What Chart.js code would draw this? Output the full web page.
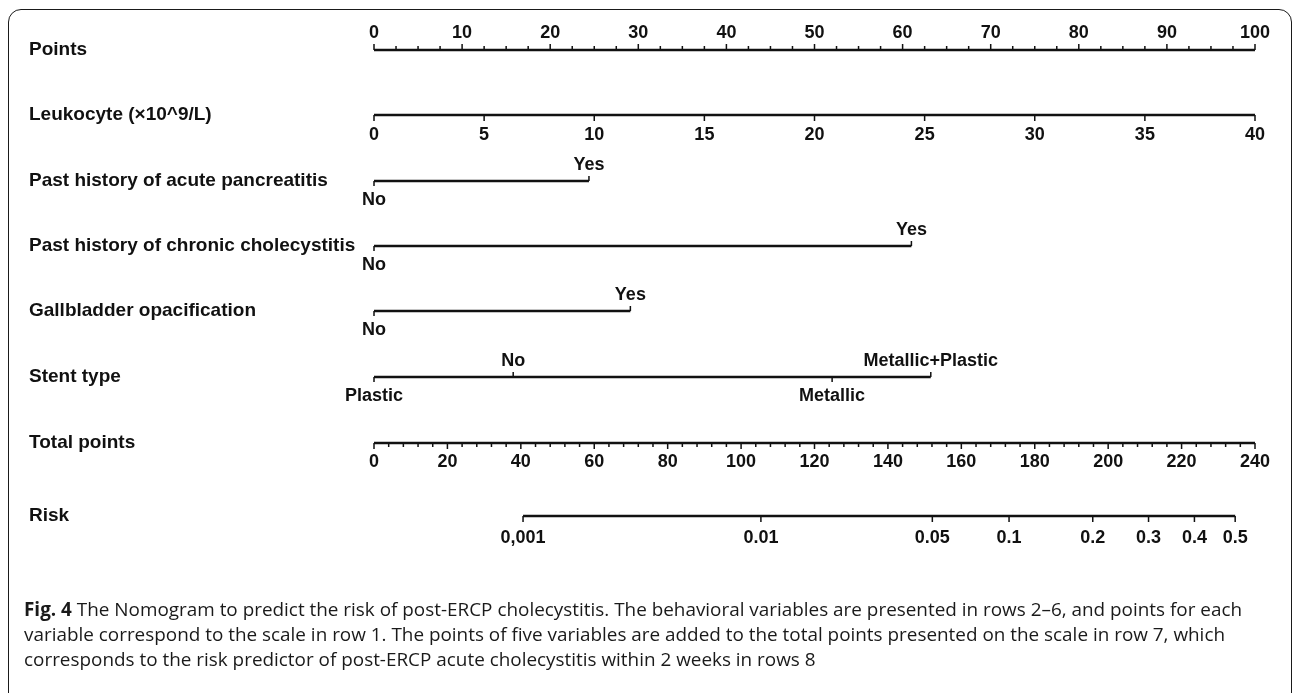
<!DOCTYPE html>
<html>
<head>
<meta charset="utf-8">
<title>Nomogram – post-ERCP cholecystitis</title>
<script src="https://cdn.jsdelivr.net/npm/chart.js@4.4.1/dist/chart.umd.min.js"></script>
<style>
  html, body { margin: 0; padding: 0; background: #fff; }
  #wrap { position: relative; width: 1293px; height: 693px; overflow: hidden; }
  #frame {
    position: absolute; left: 8px; top: 9px; width: 1284px; height: 800px;
    border: 1.7px solid #1a1a1a; border-radius: 13px; box-sizing: border-box;
  }
  #nomo { position: absolute; left: 0; top: 0; }
  #caption {
    position: absolute; left: 24px; top: 597px;
    font-family: "Open Sans", "Noto Sans", sans-serif; font-size: 18.9px;
    line-height: 25px; color: #1a1a1a; white-space: nowrap;
  }
  #caption b { font-weight: 700; }
</style>
</head>
<body>
<div id="wrap">
  <div id="frame"></div>
  <canvas id="nomo" width="1293" height="693"></canvas>
  <div id="caption">
    <div><b>Fig. 4</b> The Nomogram to predict the risk of post-ERCP cholecystitis. The behavioral variables are presented in rows 2–6, and points for each</div>
    <div>variable correspond to the scale in row 1. The points of five variables are added to the total points presented on the scale in row 7, which</div>
    <div>corresponds to the risk predictor of post-ERCP acute cholecystitis within 2 weeks in rows 8</div>
  </div>
</div>
<script>
// ---- scale values ----
const pointTickValues = [0, 10, 20, 30, 40, 50, 60, 70, 80, 90, 100];
const pointMinorStep = 2.5;
const leukocyteTickValues = [0, 5, 10, 15, 20, 25, 30, 35, 40];
const totalTickValues = [0, 20, 40, 60, 80, 100, 120, 140, 160, 180, 200, 220, 240];
const totalMinorStep = 4;
const riskTickLabels = ['0,001', '0.01', '0.05', '0.1', '0.2', '0.3', '0.4', '0.5'];
const riskTickTotals = [40.6, 105.4, 152.1, 173.0, 195.8, 211.0, 223.5, 234.6];

// ---- predictors (points contributed by each level) ----
const rowTitles = [
  'Points',
  'Leukocyte (×10^9/L)',
  'Past history of acute pancreatitis',
  'Past history of chronic cholecystitis',
  'Gallbladder opacification',
  'Stent type',
  'Total points',
  'Risk'
];
const acutePancreatitisLevels = ['No', 'Yes'];
const acutePancreatitisPoints = [0, 24.4];
const chronicCholecystitisLevels = ['No', 'Yes'];
const chronicCholecystitisPoints = [0, 61.0];
const gallbladderLevels = ['No', 'Yes'];
const gallbladderPoints = [0, 29.1];
const stentLevels = ['Plastic', 'No', 'Metallic', 'Metallic+Plastic'];
const stentPoints = [0, 15.8, 52.0, 63.2];
// label side of each level: -1 above the line, +1 below it
const binarySides = [1, -1];
const stentSides = [1, -1, 1, -1];

// ---- layout ----
const INK = '#111';
const TITLE_FONT = 'bold 19px "Liberation Sans", Arial, sans-serif';
const TICK_FONT = 'bold 18px "Liberation Sans", Arial, sans-serif';
const layout = {
  plotLeft: 374, plotRight: 1255, titleX: 29,
  rowY: [50, 115, 181, 246, 311, 377, 443, 516],
  lineWidth: 2.4, tickWidth: 1.5,
  majorTick: 6, minorTick: 4, catTick: 5,
  pointsLabelDy: -17, leukoLabelDy: 20, aboveDy: -16, belowDy: 19,
  totalLabelDy: 19, riskLabelDy: 22
};
const H = 693;

const datasets = [];
const labels = [];

function axisLine(axisId, x0, x1, y) {
  datasets.push({
    xAxisID: axisId, yAxisID: 'y',
    data: [{x: x0, y: y}, {x: x1, y: y}],
    showLine: true, borderColor: INK, borderWidth: layout.lineWidth,
    pointRadius: 0, clip: false, borderCapStyle: 'butt'
  });
}
function tickMarks(axisId, marks) {
  // marks: [{v, y0, y1}] – each one a short vertical segment
  const data = [];
  marks.forEach(m => {
    data.push({x: m.v, y: m.y0}, {x: m.v, y: m.y1}, {x: m.v, y: null});
  });
  datasets.push({
    xAxisID: axisId, yAxisID: 'y', data: data,
    showLine: true, spanGaps: false, borderColor: INK, borderWidth: layout.tickWidth,
    pointRadius: 0, clip: false, borderCapStyle: 'butt'
  });
}
function addLabel(axisId, v, y, text) { labels.push({axisId, v, y, text}); }

// Row 1 – Points
(function () {
  const y = layout.rowY[0];
  axisLine('x', pointTickValues[0], pointTickValues[pointTickValues.length - 1], y);
  const marks = [];
  for (let v = 0; v <= 100 + 1e-9; v += pointMinorStep) {
    const major = pointTickValues.includes(v);
    marks.push({v, y0: y, y1: y - (major ? layout.majorTick : layout.minorTick)});
  }
  tickMarks('x', marks);
  pointTickValues.forEach(v => addLabel('x', v, y + layout.pointsLabelDy, String(v)));
})();

// Row 2 – Leukocyte
(function () {
  const y = layout.rowY[1];
  axisLine('xLeuko', leukocyteTickValues[0], leukocyteTickValues[leukocyteTickValues.length - 1], y);
  tickMarks('xLeuko', leukocyteTickValues.map(v => ({v, y0: y, y1: y + layout.majorTick})));
  leukocyteTickValues.forEach(v => addLabel('xLeuko', v, y + layout.leukoLabelDy, String(v)));
})();

// Rows 3–6 – categorical predictors
function categoricalRow(row, levels, pts, sides) {
  const y = layout.rowY[row];
  axisLine('x', Math.min(...pts), Math.max(...pts), y);
  tickMarks('x', pts.map((v, i) => ({v, y0: y, y1: y + sides[i] * layout.catTick})));
  levels.forEach((name, i) => {
    addLabel('x', pts[i], y + (sides[i] < 0 ? layout.aboveDy : layout.belowDy), name);
  });
}
categoricalRow(2, acutePancreatitisLevels, acutePancreatitisPoints, binarySides);
categoricalRow(3, chronicCholecystitisLevels, chronicCholecystitisPoints, binarySides);
categoricalRow(4, gallbladderLevels, gallbladderPoints, binarySides);
categoricalRow(5, stentLevels, stentPoints, stentSides);

// Row 7 – Total points
(function () {
  const y = layout.rowY[6];
  axisLine('xTotal', totalTickValues[0], totalTickValues[totalTickValues.length - 1], y);
  const marks = [];
  for (let v = 0; v <= 240 + 1e-9; v += totalMinorStep) {
    const major = totalTickValues.includes(v);
    marks.push({v, y0: y, y1: y + (major ? layout.majorTick : layout.minorTick)});
  }
  tickMarks('xTotal', marks);
  totalTickValues.forEach(v => addLabel('xTotal', v, y + layout.totalLabelDy, String(v)));
})();

// Row 8 – Risk (positioned on the total-points scale)
(function () {
  const y = layout.rowY[7];
  axisLine('xTotal', riskTickTotals[0], riskTickTotals[riskTickTotals.length - 1], y);
  tickMarks('xTotal', riskTickTotals.map(v => ({v, y0: y, y1: y + layout.majorTick})));
  riskTickTotals.forEach((v, i) => addLabel('xTotal', v, y + layout.riskLabelDy, riskTickLabels[i]));
})();

// Text for row titles and tick labels, placed through the chart's scales
const nomogramText = {
  id: 'nomogramText',
  afterDatasetsDraw(chart) {
    const ctx = chart.ctx;
    const yScale = chart.scales.y;
    ctx.save();
    ctx.fillStyle = INK;
    ctx.textBaseline = 'middle';
    ctx.textAlign = 'left';
    ctx.font = TITLE_FONT;
    rowTitles.forEach((t, i) => ctx.fillText(t, layout.titleX, yScale.getPixelForValue(layout.rowY[i])));
    ctx.textAlign = 'center';
    ctx.font = TICK_FONT;
    labels.forEach(l => {
      const px = chart.scales[l.axisId].getPixelForValue(l.v);
      ctx.fillText(l.text, px, yScale.getPixelForValue(l.y));
    });
    ctx.restore();
  }
};

new Chart(document.getElementById('nomo'), {
  type: 'scatter',
  data: { datasets },
  options: {
    responsive: false,
    devicePixelRatio: 1,
    animation: false,
    events: [],
    layout: { padding: { left: layout.plotLeft, right: 1293 - layout.plotRight, top: 0, bottom: 0 } },
    plugins: { legend: { display: false }, tooltip: { enabled: false } },
    scales: {
      x: { type: 'linear', axis: 'x', min: 0, max: 100, display: false },
      xLeuko: { type: 'linear', axis: 'x', min: 0, max: 40, display: false },
      xTotal: { type: 'linear', axis: 'x', min: 0, max: 240, display: false },
      y: { type: 'linear', min: 0, max: H, reverse: true, display: false }
    }
  },
  plugins: [nomogramText]
});
</script>
</body>
</html>
